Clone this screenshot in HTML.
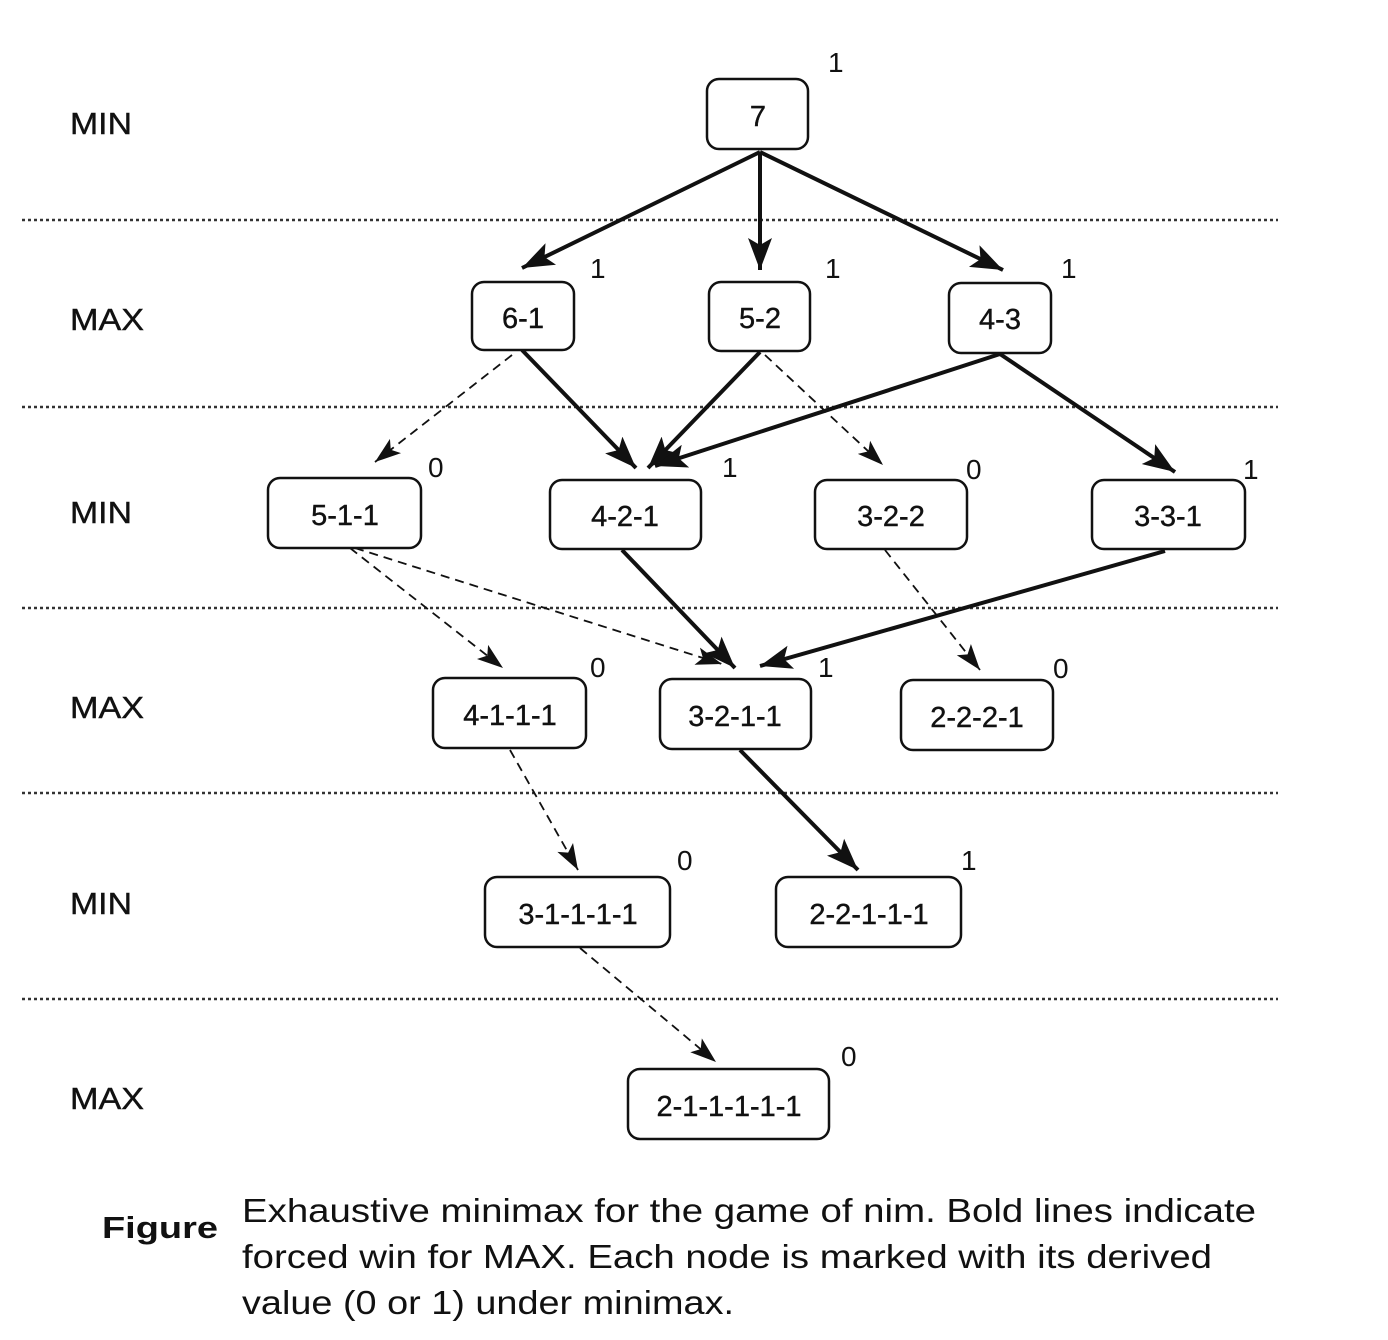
<!DOCTYPE html>
<html><head><meta charset="utf-8"><style>
body{margin:0;background:#fff}
svg{display:block}
text{font-family:"Liberation Sans",Arial,sans-serif;fill:#111}
</style></head><body>
<svg width="1388" height="1340" viewBox="0 0 1388 1340" xmlns="http://www.w3.org/2000/svg">
<defs>
<marker id="ab" markerUnits="userSpaceOnUse" markerWidth="34" markerHeight="28" refX="32" refY="14" orient="auto">
<path d="M0,2 L32,14 L0,26 L7,14 Z" fill="#111"/></marker>
<marker id="ad" markerUnits="userSpaceOnUse" markerWidth="28" markerHeight="24" refX="26" refY="12" orient="auto">
<path d="M0,3 L26,12 L0,21 L6,12 Z" fill="#111"/></marker>
</defs>
<g stroke="#333" stroke-width="2.5" stroke-dasharray="3,3">
<line x1="22" y1="220" x2="1278" y2="220"/><line x1="22" y1="407" x2="1278" y2="407"/>
<line x1="22" y1="608" x2="1278" y2="608"/><line x1="22" y1="793" x2="1278" y2="793"/>
<line x1="22" y1="999" x2="1278" y2="999"/>
</g>
<g font-size="31" stroke="#111" stroke-width="0.4">
<text x="70" y="134" textLength="62" lengthAdjust="spacingAndGlyphs">MIN</text>
<text x="70" y="330" textLength="74" lengthAdjust="spacingAndGlyphs">MAX</text>
<text x="70" y="523" textLength="62" lengthAdjust="spacingAndGlyphs">MIN</text>
<text x="70" y="718" textLength="74" lengthAdjust="spacingAndGlyphs">MAX</text>
<text x="70" y="914" textLength="62" lengthAdjust="spacingAndGlyphs">MIN</text>
<text x="70" y="1109" textLength="74" lengthAdjust="spacingAndGlyphs">MAX</text>
</g>
<g stroke="#111" stroke-width="4" fill="none" marker-end="url(#ab)">
<line x1="760" y1="152" x2="522" y2="268"/><line x1="760" y1="152" x2="760" y2="270"/>
<line x1="760" y1="152" x2="1003" y2="270"/><line x1="522" y1="350" x2="636" y2="468"/>
<line x1="760" y1="352" x2="648" y2="468"/><line x1="1000" y1="354" x2="655" y2="466"/>
<line x1="1000" y1="354" x2="1175" y2="472"/><line x1="622" y1="550" x2="735" y2="668"/>
<line x1="1165" y1="551" x2="760" y2="666"/><line x1="740" y1="750" x2="858" y2="870"/>
</g>
<g stroke="#111" stroke-width="1.8" stroke-dasharray="9,6" fill="none" marker-end="url(#ad)">
<line x1="512" y1="355" x2="375" y2="462"/><line x1="765" y1="355" x2="883" y2="465"/>
<line x1="350" y1="548" x2="503" y2="668"/><line x1="355" y1="548" x2="722" y2="664"/>
<line x1="885" y1="550" x2="980" y2="670"/><line x1="510" y1="750" x2="578" y2="870"/>
<line x1="580" y1="948" x2="716" y2="1062"/>
</g>
<g fill="#fff" stroke="#111" stroke-width="2.5">
<rect x="707" y="79" width="101" height="70" rx="12"/>
<rect x="472" y="282" width="102" height="68" rx="12"/>
<rect x="709" y="282" width="101" height="69" rx="12"/>
<rect x="949" y="283" width="102" height="70" rx="12"/>
<rect x="268" y="478" width="153" height="70" rx="12"/>
<rect x="550" y="480" width="151" height="69" rx="12"/>
<rect x="815" y="480" width="152" height="69" rx="12"/>
<rect x="1092" y="480" width="153" height="69" rx="12"/>
<rect x="433" y="678" width="153" height="70" rx="12"/>
<rect x="660" y="679" width="151" height="70" rx="12"/>
<rect x="901" y="680" width="152" height="70" rx="12"/>
<rect x="485" y="877" width="185" height="70" rx="12"/>
<rect x="776" y="877" width="185" height="70" rx="12"/>
<rect x="628" y="1069" width="201" height="70" rx="12"/>
</g>
<g font-size="29" text-anchor="middle" stroke="#111" stroke-width="0.4">
<text x="758" y="126">7</text><text x="523" y="328">6-1</text><text x="760" y="328">5-2</text>
<text x="1000" y="329">4-3</text><text x="345" y="525">5-1-1</text><text x="625" y="526">4-2-1</text>
<text x="891" y="526">3-2-2</text><text x="1168" y="526">3-3-1</text><text x="510" y="725">4-1-1-1</text>
<text x="735" y="726">3-2-1-1</text><text x="977" y="727">2-2-2-1</text><text x="578" y="924">3-1-1-1-1</text>
<text x="869" y="924">2-2-1-1-1</text><text x="729" y="1116">2-1-1-1-1-1</text>
</g>
<g font-size="28">
<text x="828" y="72">1</text><text x="590" y="278">1</text><text x="825" y="278">1</text>
<text x="1061" y="278">1</text><text x="428" y="477">0</text><text x="722" y="477">1</text>
<text x="966" y="479">0</text><text x="1243" y="479">1</text><text x="590" y="677">0</text>
<text x="818" y="677">1</text><text x="1053" y="678">0</text><text x="677" y="870">0</text>
<text x="961" y="870">1</text><text x="841" y="1066">0</text>
</g>
<text x="102" y="1238" font-size="31" font-weight="bold" textLength="116" lengthAdjust="spacingAndGlyphs">Figure</text>
<g font-size="33">
<text x="242" y="1222" textLength="1014" lengthAdjust="spacingAndGlyphs">Exhaustive minimax for the game of nim.  Bold lines indicate</text>
<text x="242" y="1268" textLength="970" lengthAdjust="spacingAndGlyphs">forced win for MAX.  Each node is marked with its derived</text>
<text x="242" y="1314" textLength="492" lengthAdjust="spacingAndGlyphs">value (0 or 1) under minimax.</text>
</g>
</svg>
</body></html>
